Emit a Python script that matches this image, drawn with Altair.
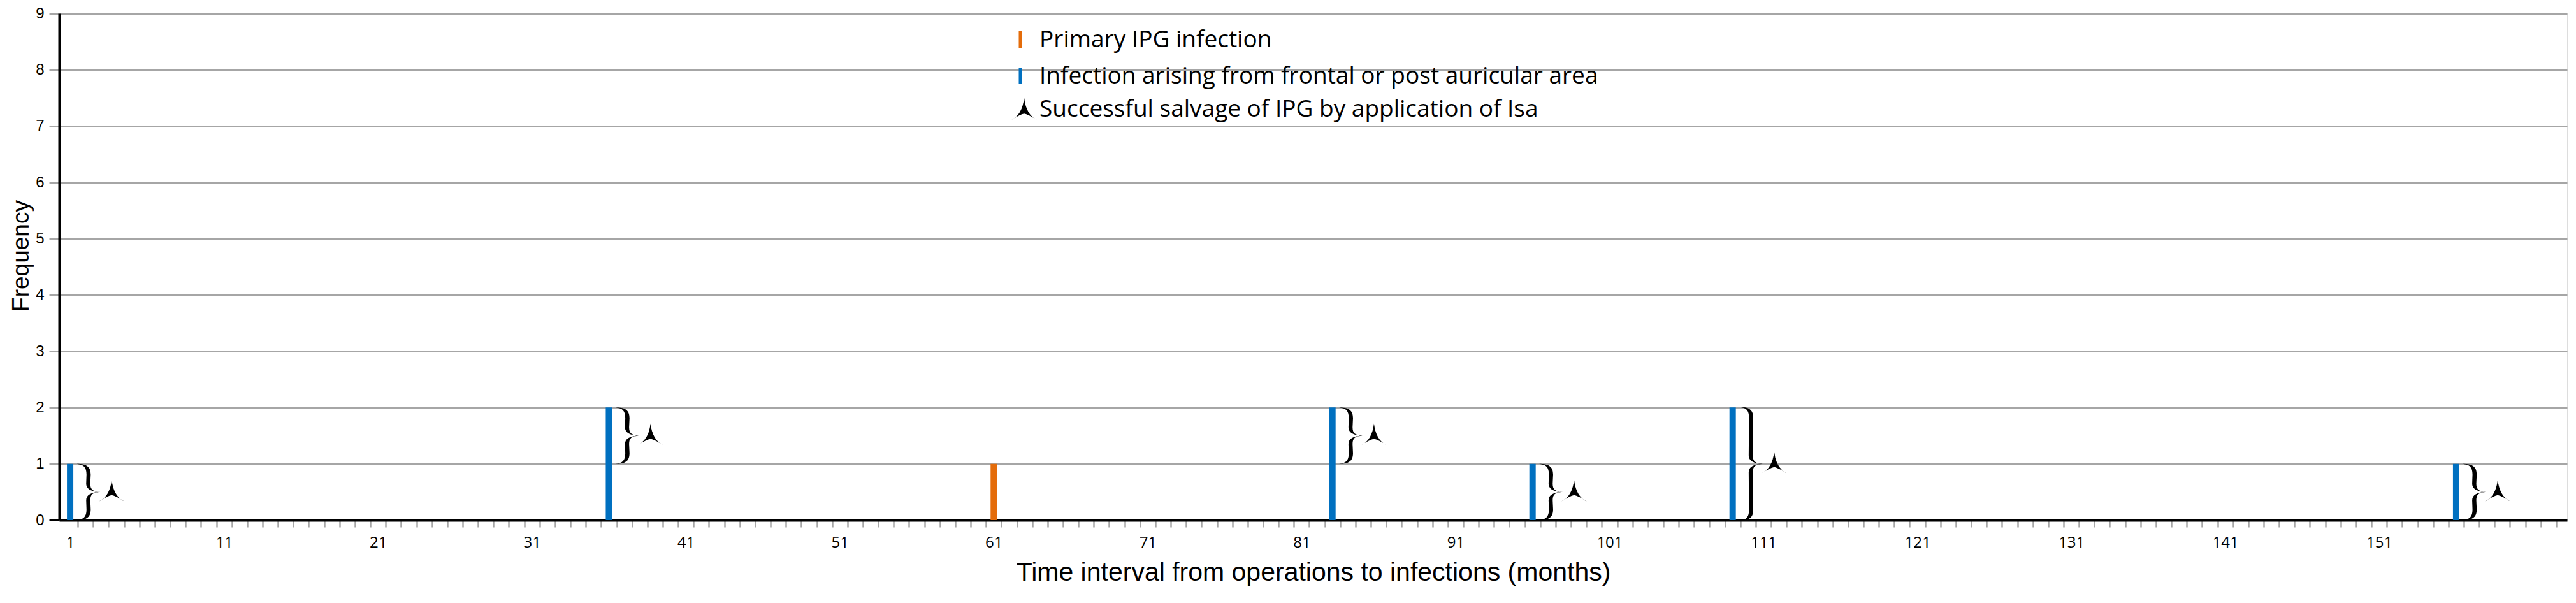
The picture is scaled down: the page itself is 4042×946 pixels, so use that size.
import altair as alt
import numpy as np
import pandas as pd

# ---------------- data ----------------
months = [1, 36, 61, 83, 96, 109, 156]
freq = [1, 2, 1, 2, 1, 2, 1]
kind = ["frontal", "frontal", "primary", "frontal", "frontal", "frontal", "frontal"]

salvage_month = [1, 36, 83, 96, 109, 156]
brace_lo = [0, 1, 1, 0, 0, 0]
brace_hi = [1, 2, 2, 1, 2, 1]

x_tick_labels = [1, 11, 21, 31, 41, 51, 61, 71, 81, 91, 101, 111, 121, 131, 141, 151]
y_ticks = [0, 1, 2, 3, 4, 5, 6, 7, 8, 9]
n_months = 162

legend_labels = [
    "Primary IPG infection",
    "Infection arising from frontal or post auricular area",
    "Successful salvage of IPG by application of Isa",
]

x_title = "Time interval from operations to infections (months)"
y_title = "Frequency"

BLUE = "#0070C0"
ORANGE = "#E46C0A"
GRID = "#A6A6A6"

W, H = 3935, 795

bars_df = pd.DataFrame({"month": months, "freq": freq, "kind": kind})
brace_df = pd.DataFrame({"month": salvage_month, "lo": brace_lo, "hi": brace_hi})


# --------------- glyph shapes (styles) ---------------
def brace_path(h, w=0.42, t=0.075):
    t2 = t * 1.15
    return (
        f"M{-w},{-h} "
        f"C-0.1,{-h} {t},{-h+0.08} {t},{-h+0.38} "
        f"L{t*0.8},-0.3 "
        f"C{t*0.8},-0.08 0.15,-0.02 {w},0 "
        f"C0.15,0.02 {t*0.8},0.08 {t*0.8},0.3 "
        f"L{t},{h-0.38} "
        f"C{t},{h-0.08} -0.1,{h} {-w},{h} "
        f"C-0.17,{h-0.03} {-t},{h-0.12} {-t},{h-0.38} "
        f"L{-t2},0.3 "
        f"C{-t2},0.1 0.1,0.005 {w},0 "
        f"C0.1,-0.005 {-t2},-0.1 {-t2},-0.3 "
        f"L{-t},{-h+0.38} "
        f"C{-t},{-h+0.12} -0.17,{-h+0.03} {-w},{-h} Z"
    )


ARROW = "M0,-0.95 Q0.15,0.35 1,0.75 Q0.3,0.3 0,0.25 Q-0.3,0.3 -1,0.75 Q-0.15,0.35 0,-0.95 Z"

x_scale = alt.Scale(domain=[0.5, 163], nice=False, zero=False)
y_scale = alt.Scale(domain=[0, 9], nice=False)

half_ticks = [float(v) + 0.5 for v in range(1, n_months + 1)]
x_axis_values = x_tick_labels + half_ticks

x_axis = alt.Axis(
    values=x_axis_values,
    labelExpr="datum.value % 1 == 0 ? datum.label : ''",
    labelOverlap=False,
    labelFlush=False,
    labelFont="Open Sans",
    labelFontSize=24,
    labelColor="black",
    labelPadding=24,
    labelBaseline="middle",
    tickColor=GRID,
    tickWidth=2.5,
    tickSize=11,
    tickOpacity={"condition": {"test": "datum.value % 1 == 0", "value": 0}, "value": 1},
    domainColor="black",
    domainWidth=4,
    grid=False,
    title=x_title,
    titleFont="Liberation Sans",
    titleFontSize=41,
    titleFontWeight="normal",
    titleColor="black",
    titleX=W / 2,
    titleY=82,
    titleBaseline="middle",
    titleAlign="center",
)

y_axis = alt.Axis(
    values=y_ticks,
    grid=True,
    gridColor=GRID,
    gridWidth=3,
    gridOpacity={"condition": {"test": "datum.value == 0", "value": 0}, "value": 1},
    tickColor={"condition": {"test": "datum.value == 0", "value": "black"}, "value": GRID},
    tickWidth=3,
    tickSize=16,
    domainColor="black",
    domainWidth=4,
    labelFont="Liberation Sans",
    labelFontSize=24,
    labelColor="black",
    labelPadding=8,
    title=y_title,
    titleFont="Liberation Sans",
    titleFontSize=37,
    titleFontWeight="normal",
    titleColor="black",
    titleX=-49,
    titleY=380,
    titleAngle=270,
    titleBaseline="alphabetic",
    titleAlign="center",
)

bars = alt.Chart(bars_df).mark_bar(size=10).encode(
    x=alt.X("month:Q", scale=x_scale, axis=x_axis),
    y=alt.Y("freq:Q", scale=y_scale, axis=y_axis),
    color=alt.Color(
        "kind:N",
        scale=alt.Scale(domain=["primary", "frontal"], range=[ORANGE, BLUE]),
        legend=None,
    ),
)

braces = (
    alt.Chart(brace_df)
    .transform_calculate(
        bx="datum.month + 1.2",
        mid="(datum.lo + datum.hi) / 2",
        span="datum.hi - datum.lo",
    )
    .mark_point(filled=True, opacity=1, color="black", size=(H / 9) ** 2)
    .encode(
        x=alt.X("bx:Q", scale=x_scale, axis=x_axis),
        y=alt.Y("mid:Q", scale=y_scale, axis=y_axis),
        shape=alt.Shape(
            "span:O",
            scale=alt.Scale(domain=[1, 2], range=[brace_path(1.0), brace_path(2.02)]),
            legend=None,
        ),
    )
)

arrows = (
    alt.Chart(brace_df)
    .transform_calculate(
        ax="datum.month + 2.7",
        mid="(datum.lo + datum.hi) / 2",
    )
    .mark_point(filled=True, opacity=1, color="black", shape=ARROW, size=1600)
    .encode(
        x=alt.X("ax:Q", scale=x_scale, axis=x_axis),
        y=alt.Y("mid:Q", scale=y_scale, axis=y_axis),
    )
)

# --------------- manual legend ---------------
leg_x_glyph = 1508
leg_x_text = 1538
leg_rows_y = [42, 99, 151]
LEG_FONT = "Open Sans"

legend_layers = []
for label, ly, col in zip(legend_labels[:2], leg_rows_y[:2], [ORANGE, BLUE]):
    df = pd.DataFrame({"label": [label]})
    legend_layers.append(
        alt.Chart(df).mark_rule(color=col, strokeWidth=5).encode(
            x=alt.value(leg_x_glyph), y=alt.value(ly - 14), y2=alt.value(ly + 12)
        )
    )
for label, ly in zip(legend_labels, leg_rows_y):
    df = pd.DataFrame({"label": [label]})
    legend_layers.append(
        alt.Chart(df)
        .mark_text(
            align="left",
            baseline="middle",
            font=LEG_FONT,
            fontSize=37,
            color="black",
        )
        .encode(x=alt.value(leg_x_text), y=alt.value(ly), text="label:N")
    )
legend_layers.append(
    alt.Chart(pd.DataFrame({"label": [legend_labels[2]]}))
    .mark_point(filled=True, opacity=1, color="black", shape=ARROW, size=1700)
    .encode(x=alt.value(leg_x_glyph + 6), y=alt.value(leg_rows_y[2] + 1))
)

chart = (
    alt.layer(bars, braces, arrows, *legend_layers)
    .properties(
        width=W,
        height=H,
        autosize=alt.AutoSizeParams(type="none"),
        padding={"left": 85, "top": 13, "right": 6, "bottom": 120},
    )
    .configure_view(strokeWidth=0)
    .configure(background="white")
)

chart.save("out.html", embed_options={"renderer": "svg", "actions": False})
